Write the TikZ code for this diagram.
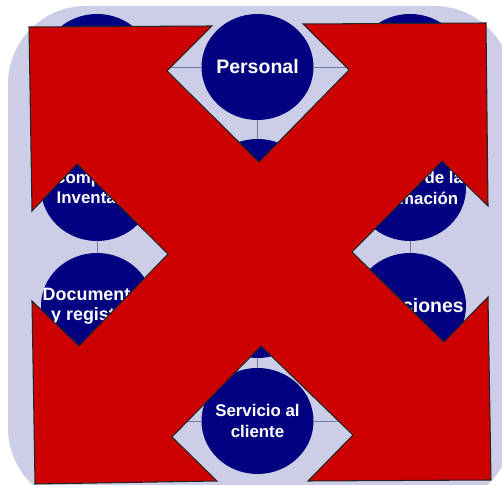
\documentclass[tikz,border=0pt]{standalone}
\usepackage{fontspec}
\setmainfont{Liberation Sans}
\usepackage{tikz}
\usetikzlibrary{shapes.geometric,positioning}
\definecolor{panel}{RGB}{204,205,230}
\definecolor{qsenavy}{RGB}{0,0,128}
\definecolor{crossred}{RGB}{204,0,0}
\definecolor{linkgray}{RGB}{118,118,168}
\tikzset{
  qse/.style={ellipse,fill=qsenavy,minimum width=2.24cm,minimum height=2.12cm,inner sep=0pt},
  qsetext/.style={text=white,align=center,inner sep=0pt},
  qsesmall/.style={qsetext,font=\fontsize{9.6}{11.6}\selectfont\bfseries},
  qsemid/.style={qsetext,font=\fontsize{10.2}{11.6}\selectfont\bfseries},
  qsebig/.style={qsetext,font=\fontsize{11.1}{13}\selectfont\bfseries},
  link/.style={draw=linkgray,line width=0.55pt},
}

\begin{document}
\begin{tikzpicture}[scale=1]
\useasboundingbox (0,0) rectangle (10.04,9.70);
\clip (0,0) rectangle (10.04,9.70);
\fill[panel,rounded corners=1.56cm] (0.16,-0.42) rectangle (10.24,9.58);
% the twelve circles, column by column
\node[qse] (tl) at (1.94,8.36) {};
\node[qse,label={[qsesmall]center:{Compras e\\Inventario}}] (cmp) at (1.94,5.94) {};
\node[qse,label={[qsemid]center:{Documentos\\y registros}}] (doc) at (1.94,3.58) {};
\node[qse] (bl) at (1.94,1.28) {};
\node[qse,label={[qsebig]center:Personal}] (per) at (5.15,8.36) {};
\node[qse] (m2) at (5.15,5.86) {};
\node[qse] (m3) at (5.15,3.60) {};
\node[qse,label={[qsesmall]center:{Servicio al\\cliente}}] (svc) at (5.15,1.28) {};
\node[qse] (tr) at (8.20,8.36) {};
\node[qse,label={[qsesmall]center:{Gestión de la\\información}}] (inf) at (8.20,5.94) {};
\node[qse,label={[qsebig,xshift=-0.16cm]center:Instalaciones}] (ins) at (8.20,3.58) {};
\node[qse] (br) at (8.20,1.28) {};
% connectors
\foreach \a/\b in {tl/per,per/tr,bl/svc,svc/br,tl/cmp,cmp/doc,doc/bl,per/m2,m2/m3,m3/svc,tr/inf,inf/ins,ins/br}
  \draw[link] (\a) -- (\b);
% red cross of four arrows over the whole picture
\filldraw[fill=crossred,draw=black!85,line width=0.6pt]
  (0.58,9.16) -- (4.24,9.18) -- (3.34,8.28) -- (5.18,6.46) -- (6.98,8.30) -- (6.06,9.22)
  -- (9.72,9.24) -- (9.76,5.58) -- (8.84,6.48) -- (7.04,4.66) -- (8.88,2.86) -- (9.76,3.76)
  -- (9.82,0.10) -- (6.16,0.08) -- (7.06,1.00) -- (5.22,2.78) -- (3.44,0.96) -- (4.34,0.08)
  -- (0.70,0.02) -- (0.64,3.68) -- (1.58,2.78) -- (3.36,4.62) -- (1.54,6.42) -- (0.64,5.48)
  -- cycle;
\end{tikzpicture}
\end{document}
